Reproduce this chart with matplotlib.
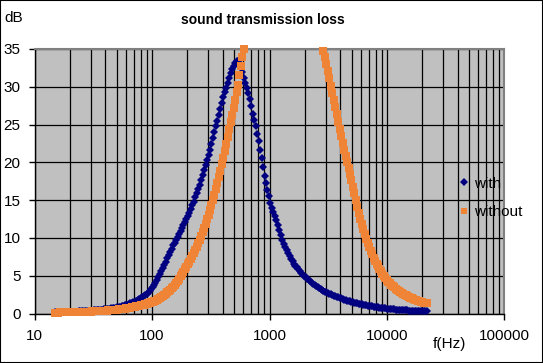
import numpy as np
import matplotlib
matplotlib.use("Agg")
import matplotlib.pyplot as plt
import matplotlib.ticker as ticker
from matplotlib.patches import Rectangle

plt.rcParams['font.family'] = ['Liberation Sans', 'DejaVu Sans']

# frequencies (Hz), 1/24 octave steps, one octave per row
freq = [15.0, 15.44, 15.89, 16.36, 16.84, 17.33, 17.84, 18.36, 18.90, 19.45, 20.02, 20.61,
        21.21, 21.84, 22.47, 23.13, 23.81, 24.51, 25.23, 25.97, 26.73, 27.51, 28.32, 29.15,
        30.0, 30.88, 31.78, 32.72, 33.68, 34.66, 35.68, 36.72, 37.80, 38.90, 40.04, 41.22,
        42.43, 43.67, 44.95, 46.27, 47.62, 49.02, 50.45, 51.93, 53.45, 55.02, 56.63, 58.29,
        60.0, 61.76, 63.57, 65.43, 67.35, 69.32, 71.35, 73.45, 75.59, 77.81, 80.09, 82.43,
        84.85, 87.34, 89.90, 92.53, 95.24, 98.03, 100.9, 103.9, 106.9, 110.0, 113.3, 116.6,
        120.0, 123.5, 127.1, 130.9, 134.7, 138.6, 142.7, 146.9, 151.2, 155.6, 160.2, 164.9,
        169.7, 174.7, 179.8, 185.1, 190.5, 196.1, 201.8, 207.7, 213.8, 220.1, 226.5, 233.2,
        240.0, 247.0, 254.3, 261.7, 269.4, 277.3, 285.4, 293.8, 302.4, 311.2, 320.4, 329.7,
        339.4, 349.4, 359.6, 370.1, 381.0, 392.1, 403.6, 415.5, 427.6, 440.2, 453.0, 466.3,
        480.0, 494.1, 508.6, 523.5, 538.8, 554.6, 570.8, 587.6, 604.8, 622.5, 640.7, 659.5,
        678.8, 698.7, 719.2, 740.3, 762.0, 784.3, 807.3, 830.9, 855.3, 880.3, 906.1, 932.6,
        960, 988.1, 1017, 1047, 1078, 1109, 1142, 1175, 1210, 1245, 1281, 1319,
        1358, 1397, 1438, 1481, 1524, 1569, 1615, 1662, 1711, 1761, 1812, 1865,
        1920, 1976, 2034, 2094, 2155, 2218, 2283, 2350, 2419, 2490, 2563, 2638,
        2715, 2795, 2877, 2961, 3048, 3137, 3229, 3324, 3421, 3521, 3625, 3731,
        3840, 3953, 4068, 4188, 4310, 4437, 4567, 4700, 4838, 4980, 5126, 5276,
        5431, 5590, 5754, 5922, 6096, 6275, 6458, 6648, 6842, 7043, 7249, 7461,
        7680, 7905, 8137, 8375, 8621, 8873, 9133, 9401, 9676, 9960, 10251, 10552,
        10861, 11179, 11507, 11844, 12191, 12548, 12916, 13295, 13684, 14085, 14498, 14923,
        15360, 15810, 16274, 16751, 17242, 17746, 18267, 18802, 19353, 19920, 20503, 21104,
        21722]

# sound transmission loss (dB), "with"
loss_with = [0.15, 0.155, 0.16, 0.165, 0.17, 0.18, 0.19, 0.195, 0.2, 0.205, 0.21, 0.22,
             0.23, 0.24, 0.25, 0.26, 0.27, 0.28, 0.29, 0.30, 0.31, 0.325, 0.34, 0.355,
             0.37, 0.385, 0.4, 0.42, 0.44, 0.46, 0.48, 0.5, 0.52, 0.545, 0.57, 0.595,
             0.62, 0.65, 0.68, 0.715, 0.75, 0.79, 0.83, 0.875, 0.92, 0.97, 1.02, 1.07,
             1.13, 1.19, 1.26, 1.33, 1.41, 1.49, 1.58, 1.68, 1.78, 1.89, 2.0, 2.15,
             2.3, 2.45, 2.6, 2.77, 2.95, 3.2, 3.45, 3.77, 4.1, 4.45, 4.8, 5.2,
             5.6, 6.02, 6.45, 6.87, 7.3, 7.72, 8.15, 8.57, 9.0, 9.37, 9.75, 10.1,
             10.5, 10.9, 11.3, 11.7, 12.1, 12.5, 12.9, 13.35, 13.8, 14.3, 14.8, 15.35,
             15.9, 16.45, 17.0, 17.65, 18.3, 18.95, 19.6, 20.3, 21.0, 21.7, 22.4, 23.2,
             24.0, 24.75, 25.5, 26.25, 27.0, 27.8, 28.6, 29.25, 29.9, 30.55, 31.2, 31.8,
             32.3, 32.8, 33.2, 33.4, 33.4, 33.1, 32.6, 32.0, 31.2, 30.55, 29.9, 29.2,
             28.4, 27.4, 26.4, 25.6, 24.8, 23.8, 22.8, 21.7, 20.6, 19.4, 18.2, 17.3,
             16.4, 15.5, 14.6, 14.0, 13.4, 12.9, 12.4, 11.7, 11.0, 10.35, 9.7, 9.25,
             8.8, 8.4, 8.0, 7.6, 7.2, 6.9, 6.6, 6.35, 6.1, 5.85, 5.6, 5.37,
             5.15, 4.97, 4.8, 4.62, 4.45, 4.27, 4.1, 3.95, 3.8, 3.65, 3.5, 3.37,
             3.25, 3.12, 3.0, 2.9, 2.8, 2.7, 2.6, 2.52, 2.45, 2.37, 2.3, 2.22,
             2.15, 2.07, 2.0, 1.92, 1.85, 1.78, 1.72, 1.66, 1.6, 1.55, 1.5, 1.45,
             1.4, 1.35, 1.3, 1.25, 1.2, 1.16, 1.12, 1.08, 1.04, 1.0, 0.97, 0.93,
             0.9, 0.87, 0.84, 0.81, 0.78, 0.75, 0.72, 0.69, 0.67, 0.64, 0.62, 0.6,
             0.58, 0.56, 0.54, 0.52, 0.5, 0.485, 0.47, 0.455, 0.44, 0.425, 0.41, 0.4,
             0.39, 0.38, 0.37, 0.36, 0.35, 0.34, 0.33, 0.32, 0.31, 0.305, 0.3, 0.29,
             0.28]

# sound transmission loss (dB), "without"; None = above the 35 dB axis top
loss_without = ([0.12, 0.125, 0.13, 0.135, 0.14, 0.145, 0.15, 0.155, 0.16, 0.165, 0.17, 0.175,
                 0.18, 0.185, 0.19, 0.195, 0.2, 0.205, 0.21, 0.215, 0.22, 0.23, 0.24, 0.25,
                 0.26, 0.27, 0.28, 0.29, 0.3, 0.31, 0.32, 0.33, 0.34, 0.355, 0.37, 0.385,
                 0.4, 0.415, 0.43, 0.45, 0.47, 0.49, 0.51, 0.535, 0.56, 0.585, 0.61, 0.64,
                 0.67, 0.705, 0.74, 0.775, 0.81, 0.85, 0.89, 0.935, 0.98, 1.03, 1.08, 1.13,
                 1.19, 1.25, 1.31, 1.37, 1.44, 1.49, 1.53, 1.61, 1.7, 1.8, 1.9, 2.02,
                 2.15, 2.3, 2.48, 2.64, 2.8, 2.97, 3.15, 3.35, 3.55, 3.8, 4.05, 4.32,
                 4.6, 4.9, 5.2, 5.52, 5.85, 6.17, 6.5, 6.85, 7.2, 7.57, 7.95, 8.37,
                 8.8, 9.27, 9.75, 10.27, 10.8, 11.35, 11.9, 12.5, 13.1, 13.75, 14.4, 15.05,
                 15.7, 16.5, 17.3, 18.1, 18.9, 19.75, 20.6, 21.5, 22.4, 23.4, 24.4, 25.35,
                 26.3, 27.25, 28.2, 29.25, 30.3, 31.55, 32.8, 33.9, 35.0]
                + [None] * 53
                + [34.8, 33.9, 33.0, 32.05, 31.1, 30.15, 29.2, 28.25, 27.3, 26.35,
                   25.4, 24.45, 23.5, 22.55, 21.6, 20.8, 20.0, 19.25, 18.5, 17.65, 16.8, 15.9,
                   15.0, 14.15, 13.3, 12.55, 11.8, 11.15, 10.5, 9.9, 9.3, 8.8, 8.3, 7.85,
                   7.4, 7.0, 6.6, 6.25, 5.9, 5.57, 5.25, 4.97, 4.7, 4.45, 4.2, 4.0,
                   3.8, 3.62, 3.45, 3.3, 3.15, 3.0, 2.85, 2.72, 2.6, 2.5, 2.4, 2.3,
                   2.2, 2.1, 2.0, 1.92, 1.85, 1.77, 1.7, 1.62, 1.55, 1.5, 1.45, 1.4,
                   1.35])

x_ticks = [10, 100, 1000, 10000, 100000]
y_ticks = [0, 5, 10, 15, 20, 25, 30, 35]

fig = plt.figure(figsize=(5.43, 3.63), dpi=100)
ax = fig.add_axes([34.6 / 543, 1 - 313.5 / 363, (504.5 - 34.6) / 543, (313.5 - 49) / 363])
ax.set_facecolor('#C0C0C0')

ax.plot(freq, np.array(loss_with, dtype=float), linestyle='none', marker='D',
        ms=4.3, mew=0, color='#000080', label='with', zorder=3)
ax.plot(freq, np.array(loss_without, dtype=float), linestyle='none', marker='s',
        ms=5.8, mew=0, color='#F08436', label='without', zorder=4, clip_on=False)

ax.set_xscale('log')
ax.set_xlim(10, 100000)
ax.set_ylim(0, 35)
ax.set_xticks(x_ticks)
ax.xaxis.set_major_formatter(ticker.FuncFormatter(lambda v, p: f"{v:.0f}"))
ax.xaxis.set_minor_locator(ticker.LogLocator(base=10, subs=np.arange(2, 10)))
ax.xaxis.set_minor_formatter(ticker.NullFormatter())
ax.set_yticks(y_ticks)

ax.grid(which='both', axis='x', color='black', lw=0.9)
ax.grid(which='major', axis='y', color='black', lw=0.9)
ax.set_axisbelow(True)

ax.tick_params(axis='y', direction='out', length=4, width=1, labelsize=11, pad=6)
ax.tick_params(axis='x', which='major', direction='out', length=4, width=1, labelsize=11, pad=7)
ax.tick_params(axis='x', which='minor', length=0)

for side in ['top', 'right']:
    ax.spines[side].set_color('#808080')
    ax.spines[side].set_linewidth(1.5)
for side in ['left', 'bottom']:
    ax.spines[side].set_color('black')
    ax.spines[side].set_linewidth(1)

ax.legend(loc='center left', bbox_to_anchor=(459 / 543, 1 - 198 / 363),
          bbox_transform=fig.transFigure, frameon=False, fontsize=11,
          handlelength=0.7, handletextpad=0.3, labelspacing=0.95, numpoints=1,
          borderpad=0, borderaxespad=0, markerscale=0.85)

fig.text(263 / 543, 1 - 20 / 363, 'sound transmission loss', ha='center', va='center',
         fontsize=10, fontweight='bold')
fig.text(14 / 543, 1 - 18 / 363, 'dB', ha='center', va='center', fontsize=11)
fig.text(449 / 543, 1 - 344 / 363, 'f(Hz)', ha='center', va='center', fontsize=11)

fig.patches.append(Rectangle((0, 0), 1, 1, transform=fig.transFigure, fill=False,
                             ec='black', lw=1.5))

fig.savefig('out.png', dpi=100)
